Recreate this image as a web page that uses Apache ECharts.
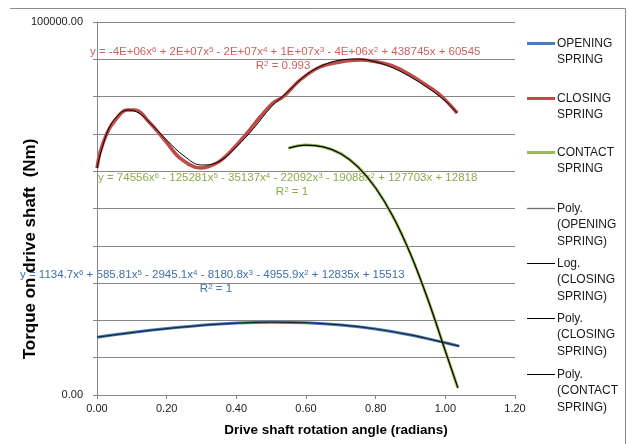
<!DOCTYPE html>
<html>
<head>
<meta charset="utf-8">
<script src="https://cdn.jsdelivr.net/npm/echarts@6/dist/echarts.min.js"></script>
<style>
html, body { margin: 0; padding: 0; background: #fff; }
#chart { width: 629px; height: 444px; }
</style>
</head>
<body>
<div id="chart"></div>
<script>
// angle (radians) / torque (Nm)
var openingX = [0, 0.1, 0.2, 0.3, 0.4, 0.5, 0.6, 0.7, 0.8, 0.9, 1.0, 1.04];
var openingY = [15500, 16740, 17810, 18680, 19270, 19520, 19380, 18790, 17700, 16100, 13990, 13100];

var closingX = [0, 0.009, 0.029, 0.046, 0.086, 0.109, 0.152, 0.201, 0.238, 0.296, 0.344, 0.382, 0.431, 0.468, 0.505, 0.534, 0.583, 0.640, 0.698, 0.755, 0.841, 0.890, 0.936, 0.985, 1.034];
var closingY = [60860, 65150, 70240, 72920, 76410, 76410, 72920, 67560, 63540, 60860, 62200, 65150, 70240, 74530, 78290, 79890, 84450, 87940, 89280, 89810, 88470, 86330, 83650, 80430, 75600];

// poly trendline of the closing spring
var closingFitX = [0, 0.03, 0.06, 0.09, 0.12, 0.15, 0.2, 0.25, 0.3, 0.35, 0.4, 0.45, 0.5, 0.55, 0.6, 0.65, 0.7, 0.75, 0.8, 0.85, 0.9, 0.95, 1.0, 1.034];
var closingFitY = [60860, 70580, 75000, 76400, 75600, 73190, 68370, 64080, 61660, 62600, 66500, 71500, 77200, 81500, 85790, 88470, 89810, 90080, 89280, 87670, 85260, 82310, 78820, 75600];

var contactX = [0.55, 0.6, 0.65, 0.7, 0.75, 0.8, 0.85, 0.9, 0.95, 1.0, 1.036];
var contactY = [66200, 67000, 66500, 64700, 61100, 55500, 47800, 37800, 25600, 11800, 1900];

var xTicks = [0, 0.2, 0.4, 0.6, 0.8, 1.0, 1.2];
var yLabels = [0, 100000];

var legendNames = ['OPENING\nSPRING', 'CLOSING\nSPRING', 'CONTACT\nSPRING', 'Poly.\n(OPENING\nSPRING)',
  'Log.\n(CLOSING\nSPRING)', 'Poly.\n(CLOSING\nSPRING)', 'Poly.\n(CONTACT\nSPRING)'];

function pairs(xs, ys) {
  return xs.map(function (x, i) { return [x, ys[i]]; });
}

var FONT = '"Liberation Sans", Arial, sans-serif';
var BLUE = '#4a7ebb', RED = '#be4b48', GREEN = '#9bbb59';

var myChart = echarts.init(document.getElementById('chart'));

// legend drawn by hand so the swatch sits on the first text line
var legendStyle = [
  { color: BLUE, w: 3 }, { color: RED, w: 3 }, { color: GREEN, w: 3 },
  { color: '#6f6f6f', w: 1.3 }, { color: '#000', w: 1 }, { color: '#000', w: 1 }, { color: '#000', w: 1 }
];
var legendTop = [43, 98, 152, 208, 263, 318, 374];
var graphics = [];
legendNames.forEach(function (name, i) {
  graphics.push({
    type: 'line', shape: { x1: 527, y1: legendTop[i] + 0.5, x2: 555, y2: legendTop[i] + 0.5 },
    style: { stroke: legendStyle[i].color, lineWidth: legendStyle[i].w }
  });
  graphics.push({
    type: 'text', x: 557, y: legendTop[i] - 8,
    style: { text: name, font: '12px ' + FONT, fill: '#1a1a1a', lineHeight: 16.5, textVerticalAlign: 'top' }
  });
});

// trendline equations, "^n" marks a superscript
function eq(text, x, y, color, align) {
  var rich = text.replace(/\^(\d)/g, '{s|$1}');
  graphics.push({
    type: 'text', x: x, y: y,
    style: {
      text: rich, fill: color, fontSize: 11.5, fontFamily: FONT,
      textAlign: align || 'left', textVerticalAlign: 'middle',
      rich: { s: { fontSize: 8, fontFamily: FONT, fill: color, verticalAlign: 'top', lineHeight: 13 } }
    }
  });
}
eq('y = -4E+06x^6 + 2E+07x^5 - 2E+07x^4 + 1E+07x^3 - 4E+06x^2 + 438745x + 60545', 90, 52, '#d0605c');
eq('R^2 = 0.993', 283, 66, '#d0605c', 'center');
eq('y = 74556x^6 - 125281x^5 - 35137x^4 - 22092x^3 - 19088x^2 + 127703x + 12818', 98, 178, '#8fa84a');
eq('R^2 = 1', 292, 192, '#8fa84a', 'center');
eq('y = 1134.7x^6 + 585.81x^5 - 2945.1x^4 - 8180.8x^3 - 4955.9x^2 + 12835x + 15513', 20, 275, '#3f6fa8');
eq('R^2 = 1', 216, 289, '#3f6fa8', 'center');

// axis titles
graphics.push({
  type: 'text', x: 30, y: 249, rotation: Math.PI / 2,
  style: { text: 'Torque on drive shaft  (Nm)', font: 'bold 17px ' + FONT, fill: '#000', textAlign: 'center', textVerticalAlign: 'middle' }
});
graphics.push({
  type: 'text', x: 336, y: 430,
  style: { text: 'Drive shaft rotation angle (radians)', font: 'bold 13.5px ' + FONT, fill: '#000', textAlign: 'center', textVerticalAlign: 'middle' }
});

// outer chart frame (top and right edge only visible)
graphics.push({ type: 'polyline', shape: { points: [[10, 8.5], [625.5, 8.5], [625.5, 444]] }, style: { stroke: '#8c8c8c', lineWidth: 1, fill: null } });

myChart.setOption({
  animation: false,
  grid: { left: 97, right: 114, top: 22, bottom: 49 },
  xAxis: {
    type: 'value', min: 0, max: 1.2, interval: 0.2,
    axisLine: { lineStyle: { color: '#868686' } },
    axisTick: { show: true, length: 4, lineStyle: { color: '#868686' } },
    splitLine: { show: false },
    axisLabel: {
      margin: 8, color: '#1a1a1a', fontSize: 11, fontFamily: FONT,
      formatter: function (v) { return xTicks.indexOf(Math.round(v * 10) / 10) >= 0 ? v.toFixed(2) : ''; }
    }
  },
  yAxis: {
    type: 'value', min: 0, max: 100000, interval: 10000,
    axisLine: { show: true, lineStyle: { color: '#868686' } },
    axisTick: { show: true, length: 4, lineStyle: { color: '#868686' } },
    splitLine: { lineStyle: { color: '#868686' } },
    axisLabel: {
      margin: 14, color: '#1a1a1a', fontSize: 11, fontFamily: FONT,
      formatter: function (v) { return yLabels.indexOf(v) >= 0 ? v.toFixed(2) : ''; }
    }
  },
  graphic: graphics,
  series: [
    { name: 'OPENING SPRING', type: 'line', smooth: 0.4, showSymbol: false, data: pairs(openingX, openingY), lineStyle: { color: BLUE, width: 3 } },
    { name: 'CLOSING SPRING', type: 'line', smooth: 0.35, showSymbol: false, data: pairs(closingX, closingY), lineStyle: { color: RED, width: 3.5 } },
    { name: 'CONTACT SPRING', type: 'line', smooth: 0.4, showSymbol: false, data: pairs(contactX, contactY), lineStyle: { color: GREEN, width: 3 } },
    { name: 'Poly. (OPENING SPRING)', type: 'line', smooth: 0.4, showSymbol: false, data: pairs(openingX, openingY), lineStyle: { color: '#1c2a3a', width: 1.2 } },
    { name: 'Poly. (CLOSING SPRING)', type: 'line', smooth: 0.4, showSymbol: false, data: pairs(closingFitX, closingFitY), lineStyle: { color: '#000', width: 1 } },
    { name: 'Poly. (CONTACT SPRING)', type: 'line', smooth: 0.4, showSymbol: false, data: pairs(contactX, contactY), lineStyle: { color: '#000', width: 1.2 } }
  ]
});
window.addEventListener('resize', function () { myChart.resize(); });
</script>
</body>
</html>
